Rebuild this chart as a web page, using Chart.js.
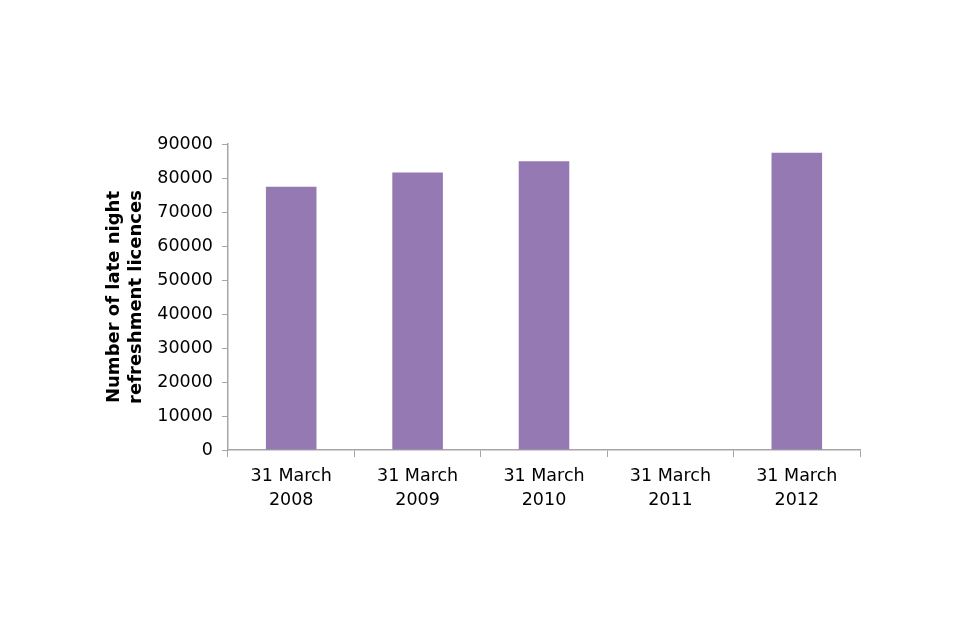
<!DOCTYPE html>
<html>
<head>
<meta charset="utf-8">
<script src="https://cdn.jsdelivr.net/npm/chart.js@4"></script>
<style>
  html, body { margin: 0; padding: 0; background: #fff; }
  #wrap { width: 960px; height: 640px; }
</style>
</head>
<body>
<div id="wrap"><canvas id="chart" width="960" height="640"></canvas></div>
<script>
// Data
const categories = [['31 March', '2008'], ['31 March', '2009'], ['31 March', '2010'], ['31 March', '2011'], ['31 March', '2012']];
const licences   = [77400, 81600, 84900, null, 87400];
const axisTitle  = ['Number of late night', 'refreshment licences'];

const barColor  = '#9479b3';
const axisColor = '#a6a6a6';
const fontFam   = "'DejaVu Sans', Verdana, sans-serif";

new Chart(document.getElementById('chart'), {
  type: 'bar',
  data: {
    labels: categories,
    datasets: [{
      data:            licences,
      backgroundColor: barColor,
      borderWidth:     0,
      categoryPercentage: 1,
      barPercentage:   0.4
    }]
  },
  options: {
    responsive: false,
    animation:  false,
    layout: { padding: { top: 144, right: 100, left: 104, bottom: 0 } },
    plugins: {
      legend:  { display: false },
      tooltip: { enabled: false }
    },
    scales: {
      x: {
        grid:   { drawOnChartArea: false, color: axisColor, tickLength: 7, offset: true },
        border: { color: axisColor, width: 1.5 },
        ticks:  { color: '#000', font: { family: fontFam, size: 17.5, lineHeight: 1.35 }, padding: 8, maxRotation: 0 },
        afterFit: s => { s.height = 640 - 450; }
      },
      y: {
        min: 0, max: 90000,
        ticks:  {
          stepSize: 10000, color: '#000', padding: 9,
          font: { family: fontFam, size: 17.5 },
          callback: v => String(v)
        },
        grid:   { drawOnChartArea: false, color: axisColor, tickLength: 6 },
        border: { color: axisColor, width: 1.5 },
        title: {
          display: true,
          text:    axisTitle,
          color:   '#000',
          font:    { family: fontFam, size: 18, weight: 'bold', lineHeight: 1.2 },
          padding: { top: 0, bottom: 4 }
        },
        afterFit: s => { s.width = 228 - 104; }
      }
    }
  }
});
</script>
</body>
</html>
